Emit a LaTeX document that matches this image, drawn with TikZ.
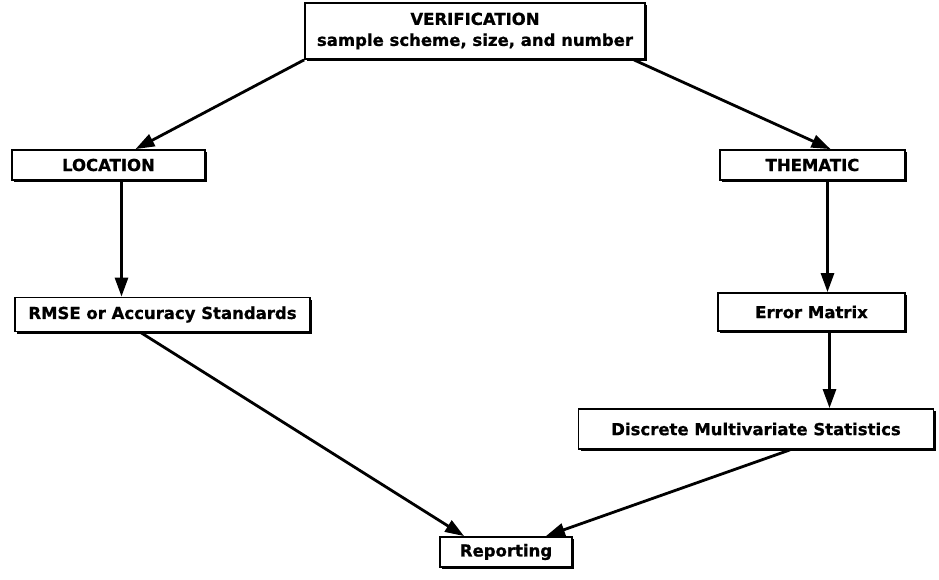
\documentclass[tikz,border=0pt]{standalone}
\usepackage{fontspec}
\setmainfont{DejaVu Sans}[BoldFeatures={FakeBold=0.8}]
\usetikzlibrary{arrows.meta,shadows}

\tikzset{
  flowbox/.style={draw, line width=1.8pt, fill=white, inner sep=2pt,
    font=\bfseries\fontsize{16.5}{21}\selectfont, align=center,
    drop shadow={shadow xshift=2.2pt, shadow yshift=-2.2pt, fill=black, opacity=1}},
  flowarrow/.style={line width=2.8pt, -{Triangle[length=19pt,width=13pt]}}
}

\begin{document}
\begin{tikzpicture}[x=1pt,y=1pt]
  \useasboundingbox (0,0) rectangle (939,579);

  % boxes
  \node[flowbox, minimum width=340pt, minimum height=56pt] (ver) at (475,548)
    {VERIFICATION\\sample scheme, size, and number};
  \node[flowbox, minimum width=193pt, minimum height=30pt] (loc) at (108.5,414) {LOCATION};
  \node[flowbox, minimum width=185pt, minimum height=30pt] (them) at (812.5,414) {THEMATIC};
  \node[flowbox, minimum width=295pt, minimum height=34pt] (rmse) at (162.5,264.5) {RMSE or Accuracy Standards};
  \node[flowbox, minimum width=187pt, minimum height=38pt] (err) at (811.5,267) {Error Matrix};
  \node[flowbox, minimum width=355pt, minimum height=40pt] (disc) at (756,150) {Discrete Multivariate Statistics};
  \node[flowbox, minimum width=132pt, minimum height=30pt] (rep) at (506,27) {Reporting};

  % connectors
  \draw[flowarrow] (ver.south west) -- ([xshift=27pt]loc.north);
  \draw[flowarrow] ([xshift=-12pt]ver.south east) -- ([xshift=18pt]them.north);
  \draw[flowarrow] ([xshift=13pt]loc.south) -- ([xshift=13pt]loc.south |- rmse.north);
  \draw[flowarrow] ([xshift=15pt]them.south) -- ([xshift=15pt]them.south |- err.north);
  \draw[flowarrow] ([xshift=18pt]err.south) -- ([xshift=18pt]err.south |- disc.north);
  \draw[flowarrow] ([xshift=-22pt]rmse.south) -- ([xshift=25pt]rep.north west);
  \draw[flowarrow] ([xshift=34pt]disc.south) -- ([xshift=-27pt]rep.north east);
\end{tikzpicture}
\end{document}
